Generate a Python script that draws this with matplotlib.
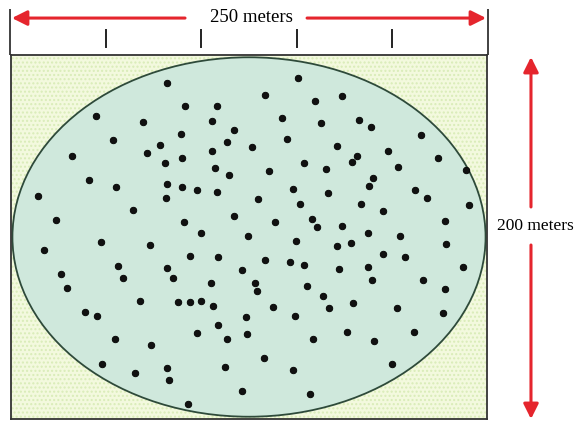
import matplotlib
matplotlib.use("Agg")
import matplotlib.pyplot as plt
from matplotlib.patches import Ellipse, Rectangle

# Field is 250 m wide, 200 m tall; tree locations in meters
field_w = 250
field_h = 200
top_label = "250 meters"
side_label = "200 meters"
scale_ticks = [50, 100, 150, 200]

tree_x = [81.8, 44.5, 69.2, 53.4, 78.3, 71.6, 32.2, 80.9, 41.1, 55.0,
          81.8, 81.6, 14.3, 64.1, 23.5, 150.7, 133.2, 159.7, 91.4, 108.2,
          105.4, 142.2, 162.6, 89.3, 117.1, 113.4, 145.0, 126.7, 105.4, 90.0,
          107.3, 114.5, 153.9, 165.7, 135.7, 89.8, 97.7, 108.0, 148.1, 166.3,
          129.7, 151.9, 117.1, 90.9, 138.8, 158.1, 160.9, 99.8, 124.6, 149.7,
          173.7, 182.6, 189.2, 215.3, 171.4, 181.9, 179.3, 198.2, 224.3, 203.4,
          239.0, 190.0, 188.2, 212.3, 218.6, 184.0, 195.5, 240.4, 227.9, 174.0,
          187.6, 204.5, 47.1, 17.5, 73.0, 56.0, 81.9, 26.4, 58.8, 29.6,
          67.8, 38.7, 45.3, 54.5, 73.4, 48.0, 65.3, 82.1, 83.1, 93.9,
          108.9, 133.6, 146.5, 153.7, 121.3, 85.1, 105.2, 128.3, 129.4, 155.5,
          163.8, 87.7, 94.2, 99.8, 105.9, 137.4, 167.2, 123.4, 149.3, 108.7,
          97.7, 124.1, 113.6, 158.5, 133.0, 112.4, 148.0, 121.3, 157.0, 92.8,
          171.2, 178.4, 228.5, 195.4, 207.1, 172.1, 187.3, 237.6, 189.4, 216.2,
          228.1, 179.8, 202.7, 226.7, 176.6, 211.8, 190.8, 200.0]
tree_y = [184.8, 166.5, 163.0, 153.5, 150.3, 146.2, 144.5, 140.7, 131.3, 127.6,
          129.3, 121.2, 122.7, 114.7, 109.5, 187.5, 178.0, 174.6, 171.8, 171.8,
          163.7, 165.2, 162.9, 156.6, 158.8, 152.0, 153.8, 149.3, 147.1, 143.6,
          137.7, 134.1, 140.7, 137.1, 136.1, 127.3, 125.7, 124.9, 126.5, 124.3,
          121.0, 118.3, 111.7, 108.2, 108.1, 109.7, 105.3, 102.2, 100.3, 97.6,
          177.3, 164.5, 160.3, 156.2, 150.2, 144.5, 141.2, 147.3, 143.2, 138.6,
          136.8, 132.4, 128.2, 125.7, 121.6, 118.3, 114.1, 117.4, 108.8, 106.0,
          102.2, 100.7, 97.3, 92.7, 95.8, 84.2, 82.8, 79.5, 77.6, 72.1,
          64.7, 58.8, 56.8, 43.8, 40.8, 30.1, 25.1, 27.9, 21.3, 89.7,
          89.2, 87.2, 86.3, 84.6, 82.0, 77.6, 74.9, 74.7, 70.2, 73.2,
          67.7, 64.5, 64.5, 64.7, 61.9, 61.5, 61.0, 56.0, 56.8, 51.8,
          47.4, 46.5, 43.8, 43.8, 33.4, 28.6, 26.9, 15.5, 13.9, 8.4,
          95.1, 96.5, 96.3, 90.5, 88.8, 82.3, 83.5, 83.4, 76.4, 76.2,
          71.4, 63.9, 60.8, 58.2, 47.8, 47.6, 43.0, 30.1]

W, H, DPI = 580, 421, 100
fig = plt.figure(figsize=(W / DPI, H / DPI), dpi=DPI)
fig.patch.set_facecolor("white")
ax = fig.add_axes([11 / W, 2 / H, 476 / W, 364 / H])
ax.set_xlim(0, field_w)
ax.set_ylim(0, field_h)
ax.set_xticks([])
ax.set_yticks([])
for s in ax.spines.values():
    s.set_color("#333333")
    s.set_linewidth(1.3)
ax.set_facecolor("#f3f9de")

plt.rcParams["hatch.linewidth"] = 1.0
bg = Rectangle((0, 0), field_w, field_h, facecolor="#f3f9de",
               edgecolor="#d9ecb8", hatch="....", lw=0, zorder=0)
ax.add_patch(bg)

ell = Ellipse((field_w / 2, field_h / 2), field_w - 1.5, field_h - 2.5,
              facecolor="#cfe8dc", edgecolor="#2e4a3a", lw=1.3, zorder=1)
ax.add_patch(ell)

ax.plot(tree_x, tree_y, "o", ms=4.7, color="#111111", mec="#000000",
        mew=0.6, zorder=3)

red = "#e5252d"
arrow_kw = dict(arrowstyle="-|>,head_length=0.9,head_width=0.45",
                color=red, lw=2.2, shrinkA=0, shrinkB=0)

# top dimension
ytop = 220.3
ax.annotate("", xy=(0.5, ytop), xytext=(91.4, ytop), xycoords="data",
            arrowprops=arrow_kw, annotation_clip=False)
ax.annotate("", xy=(249.5, ytop), xytext=(155.5, ytop), xycoords="data",
            arrowprops=arrow_kw, annotation_clip=False)
ax.text(126.2, ytop + 0.3, top_label, ha="center", va="center",
        fontsize=13.5, family="Liberation Serif", color="black", clip_on=False)

# header frame lines and scale ticks
for xx in (-0.5, field_w + 0.5):
    ax.plot([xx, xx], [field_h, 225.3], color="#333333", lw=1.3,
            clip_on=False, solid_capstyle="butt")
for t in scale_ticks:
    ax.plot([t, t], [204.4, 213.7], color="#222222", lw=1.4, clip_on=False)

# right dimension
xr = 273.1
ax.annotate("", xy=(xr, 198.9), xytext=(xr, 116.5), xycoords="data",
            arrowprops=arrow_kw, annotation_clip=False)
ax.annotate("", xy=(xr, 0.0), xytext=(xr, 95.6), xycoords="data",
            arrowprops=arrow_kw, annotation_clip=False)
ax.text(275.5, 106, side_label, ha="center", va="center",
        fontsize=12.5, family="Liberation Serif", color="black", clip_on=False)

fig.savefig("out.png", dpi=DPI, facecolor="white")
